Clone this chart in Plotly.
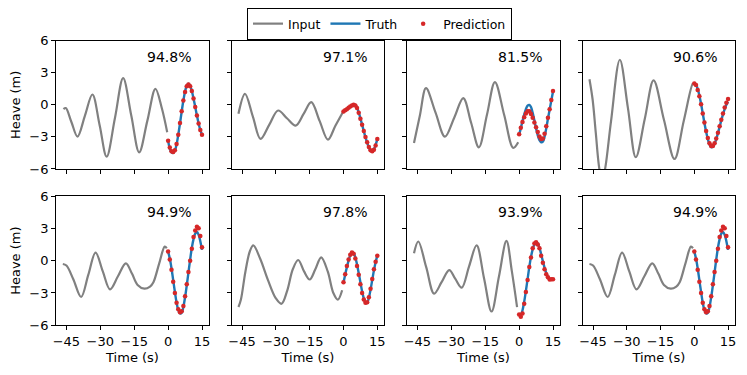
import plotly.graph_objects as go
from plotly.subplots import make_subplots

GRAY = "#808080"
BLUE = "#1f77b4"
RED = "#d62728"
FONT = "DejaVu Sans"

# forecast time grid shared by truth and prediction (s)
PRED_TIME = [0, 0.75, 1.5, 2.25, 3, 3.75, 4.5, 5.25, 6, 6.75, 7.5,
             8.25, 9, 9.75, 10.5, 11.25, 12, 12.75, 13.5, 14.25, 15]

SCORES = ["94.8%", "97.1%", "81.5%", "90.6%", "94.9%", "97.8%", "93.9%", "94.9%"]

# panel 1
P1_INPUT_T = [-46.3, -45.3, -42.8, -40.1, -36.8, -33.5, -30.3, -27.2, -23.5,
              -19.9, -16.3, -12.8, -9.2, -5.6, -2.8, -0.4]
P1_INPUT_V = [-0.4, -0.3, -1.6, -2.97, -1.0, 0.97, -1.9, -4.84, -1.2,
              2.5, -1.0, -4.44, -1.5, 1.5, -0.3, -2.56]
P1_TRUTH = [-3.34, -4.1, -4.45, -4.5, -4.3, -3.7, -2.8, -1.75, -0.65, 0.4, 1.25,
            1.8, 1.97, 1.8, 1.3, 0.6, -0.2, -1.0, -1.75, -2.35, -2.8]
P1_PRED = [-3.35, -4.0, -4.35, -4.4, -4.25, -3.65, -2.8, -1.7, -0.6, 0.4, 1.2,
           1.75, 1.9, 1.75, 1.3, 0.6, -0.2, -1.0, -1.75, -2.35, -2.8]

# panel 2
P2_INPUT_T = [-46.6, -43.7, -40.2, -36.8, -32.9, -29.0, -25.1, -21.2, -17.7,
              -14.3, -10.6, -6.9, -3.6, -0.3]
P2_INPUT_V = [-0.84, 1.03, -1.1, -3.19, -1.85, -0.53, -1.25, -1.94, -0.85,
              0.25, -1.5, -3.25, -1.95, -0.69]
P2_TRUTH = [-0.63, -0.52, -0.4, -0.28, -0.15, -0.05, 0.02, 0.0, -0.25, -0.7, -1.25,
            -1.85, -2.45, -3.05, -3.55, -4.0, -4.3, -4.35, -4.15, -3.75, -3.2]
P2_PRED = [-0.63, -0.5, -0.4, -0.27, -0.15, -0.06, 0.0, -0.05, -0.3, -0.75, -1.3,
           -1.85, -2.45, -3.0, -3.5, -3.95, -4.25, -4.35, -4.2, -3.8, -3.2]

# panel 3
P3_INPUT_T = [-46.5, -43.9, -41.2, -37.0, -32.8, -28.7, -24.7, -21.2, -17.8,
              -14.2, -10.7, -6.6, -2.6, -0.4]
P3_INPUT_V = [-3.56, -1.0, 1.56, -0.7, -2.97, -1.2, 0.63, -1.7, -3.97,
              -0.9, 2.13, -0.95, -4.03, -3.5]
P3_TRUTH = [-2.78, -2.2, -1.5, -0.9, -0.4, -0.08, 0.0, -0.2, -0.75, -1.45, -2.2,
            -2.85, -3.3, -3.5, -3.45, -3.0, -2.2, -1.3, -0.45, 0.4, 1.25]
P3_PRED = [-2.75, -2.15, -1.6, -1.15, -0.8, -0.6, -0.6, -0.85, -1.2, -1.65, -2.1,
           -2.55, -2.95, -3.2, -3.15, -2.7, -2.0, -1.2, -0.4, 0.45, 1.3]

# panel 4
P4_INPUT_T = [-46.6, -45.2, -43.8, -42.4, -41.0, -39.5, -37.0, -33.1, -29.5,
              -26.0, -22.0, -18.1, -13.5, -8.8, -4.7, -0.7, -0.4]
P4_INPUT_V = [2.4, 0.5, -2.6, -5.7, -7.3, -5.8, -1.5, 4.22, -0.3,
              -4.9, -1.3, 2.28, -1.4, -5.06, -1.5, 1.97, 1.95]
P4_TRUTH = [2.03, 1.9, 1.5, 0.88, 0.1, -0.79, -1.7, -2.52, -3.2, -3.71, -3.95,
            -3.93, -3.65, -3.2, -2.65, -2.05, -1.45, -0.9, -0.4, 0.0, 0.3]
P4_PRED = [2.0, 1.85, 1.4, 0.8, 0.05, -0.8, -1.65, -2.45, -3.1, -3.6, -3.85,
           -3.85, -3.6, -3.15, -2.6, -2.0, -1.4, -0.8, -0.25, 0.2, 0.55]

# panel 5
P5_INPUT_T = [-46.6, -45.0, -42.0, -38.5, -35.3, -32.1, -28.9, -25.7, -22.2,
              -18.7, -16.0, -13.5, -10.5, -8.0, -6.5, -4.0, -1.5, -0.6]
P5_INPUT_V = [-0.31, -0.45, -1.7, -3.37, -1.3, 0.75, -1.0, -2.66, -1.45,
              -0.25, -1.2, -2.25, -2.6, -2.4, -2.0, -0.3, 1.3, 1.15]
P5_TRUTH = [0.84, 0.2, -0.7, -1.8, -2.9, -3.9, -4.6, -4.9, -4.85, -4.3, -3.4,
            -2.3, -1.1, 0.1, 1.2, 2.0, 2.5, 2.66, 2.4, 1.8, 1.0]
P5_PRED = [0.85, 0.1, -0.85, -1.95, -3.0, -3.9, -4.5, -4.8, -4.7, -4.2, -3.3,
           -2.2, -1.05, 0.0, 1.1, 2.2, 2.8, 3.15, 3.0, 2.3, 1.25]

# panel 6
P6_INPUT_T = [-46.6, -45.5, -43.5, -41.5, -40.0, -37.0, -33.5, -30.0, -27.5,
              -25.0, -22.5, -20.1, -17.5, -15.0, -12.5, -9.9, -7.0, -4.5,
              -2.5, -0.6]
P6_INPUT_V = [-4.3, -3.6, -1.0, 0.9, 1.41, 0.2, -1.8, -3.5, -4.0,
              -2.8, -0.8, 0.06, -1.0, -1.75, -0.8, 0.31, -1.0, -3.0,
              -3.62, -2.75]
P6_TRUTH = [-2.03, -1.3, -0.6, 0.0, 0.5, 0.75, 0.7, 0.3, -0.35, -1.15, -2.0,
            -2.85, -3.5, -3.9, -3.9, -3.45, -2.7, -1.8, -0.9, -0.15, 0.47]
P6_PRED = [-2.0, -1.25, -0.5, 0.1, 0.55, 0.75, 0.65, 0.2, -0.5, -1.3, -2.2,
           -3.0, -3.6, -3.9, -3.85, -3.4, -2.6, -1.7, -0.8, -0.1, 0.45]

# panel 7
P7_INPUT_T = [-46.5, -44.6, -41.1, -37.6, -34.3, -30.9, -28.2, -25.4, -22.1,
              -18.8, -15.5, -12.2, -8.9, -5.6, -3.2, -0.9]
P7_INPUT_V = [0.69, 1.78, -0.6, -3.06, -2.0, -0.88, -1.7, -2.5, -0.5,
              1.41, -1.65, -4.72, -1.45, 1.84, -1.0, -4.31]
P7_TRUTH = [-5.1, -5.05, -4.6, -3.8, -2.8, -1.7, -0.6, 0.35, 1.05, 1.5, 1.72,
            1.6, 1.2, 0.6, -0.05, -0.65, -1.15, -1.5, -1.7, -1.75, -1.72]
P7_PRED = [-5.0, -5.2, -4.9, -4.0, -2.9, -1.8, -0.6, 0.3, 1.15, 1.6, 1.7,
           1.5, 1.15, 0.45, -0.2, -0.8, -1.25, -1.55, -1.75, -1.72, -1.72]

# panel 8 repeats the same sample as panel 5
P8_INPUT_T = P5_INPUT_T
P8_INPUT_V = P5_INPUT_V
P8_TRUTH = P5_TRUTH
P8_PRED = P5_PRED

PANELS = [
    (P1_INPUT_T, P1_INPUT_V, P1_TRUTH, P1_PRED),
    (P2_INPUT_T, P2_INPUT_V, P2_TRUTH, P2_PRED),
    (P3_INPUT_T, P3_INPUT_V, P3_TRUTH, P3_PRED),
    (P4_INPUT_T, P4_INPUT_V, P4_TRUTH, P4_PRED),
    (P5_INPUT_T, P5_INPUT_V, P5_TRUTH, P5_PRED),
    (P6_INPUT_T, P6_INPUT_V, P6_TRUTH, P6_PRED),
    (P7_INPUT_T, P7_INPUT_V, P7_TRUTH, P7_PRED),
    (P8_INPUT_T, P8_INPUT_V, P8_TRUTH, P8_PRED),
]

# the page body keeps its default 8px margin, so the figure is drawn 8px in
WIDTH, HEIGHT = 739, 367
X_DOMAINS = [[0.0650, 0.2720], [0.3027, 0.5092], [0.5399, 0.7470], [0.7777, 0.9838]]
Y_DOMAINS = [[0.5613, 0.9109], [0.1354, 0.4877]]


def build_figure():
    """Grid of heave forecasts: input history, truth and predicted points."""
    fig = make_subplots(rows=2, cols=4, shared_xaxes=True, shared_yaxes=True)

    for i, (in_t, in_v, truth, pred) in enumerate(PANELS):
        row, col = i // 4 + 1, i % 4 + 1
        first = i == 0
        fig.add_trace(
            go.Scatter(x=in_t, y=in_v, mode="lines", name="Input",
                       line=dict(color=GRAY, width=2.2, shape="spline"),
                       showlegend=first, legendrank=1),
            row=row, col=col,
        )
        fig.add_trace(
            go.Scatter(x=PRED_TIME, y=truth, mode="lines", name="Truth",
                       line=dict(color=BLUE, width=2.4, shape="spline"),
                       showlegend=first, legendrank=2),
            row=row, col=col,
        )
        fig.add_trace(
            go.Scatter(x=PRED_TIME, y=pred, mode="markers", name="Prediction",
                       marker=dict(color=RED, size=4.5, line=dict(width=0)),
                       showlegend=first, legendrank=3),
            row=row, col=col,
        )
        n = i + 1
        fig.add_annotation(
            text=SCORES[i],
            xref=f"x{n} domain" if n > 1 else "x domain",
            yref=f"y{n} domain" if n > 1 else "y domain",
            x=0.74, y=0.875, xanchor="center", yanchor="middle",
            showarrow=False, font=dict(size=14, color="black", family=FONT),
        )
        xa = "xaxis" if n == 1 else f"xaxis{n}"
        ya = "yaxis" if n == 1 else f"yaxis{n}"
        fig.layout[xa].domain = X_DOMAINS[col - 1]
        fig.layout[ya].domain = Y_DOMAINS[row - 1]

    fig.update_xaxes(
        range=[-49.6, 18.1], tickvals=[-45, -30, -15, 0, 15],
        showline=True, linecolor="black", linewidth=1, mirror=True,
        ticks="outside", ticklen=4, tickcolor="black", showgrid=False,
        zeroline=False, tickfont=dict(size=13, color="black"),
        automargin=False,
    )
    fig.update_yaxes(
        range=[-6, 6], tickvals=[-6, -3, 0, 3, 6],
        showline=True, linecolor="black", linewidth=1, mirror=True,
        ticks="outside", ticklen=4, tickcolor="black", showgrid=False,
        zeroline=False, tickfont=dict(size=13, color="black"),
        automargin=False,
    )
    for c in range(1, 5):
        fig.update_xaxes(title=dict(text="Time (s)", standoff=4,
                                    font=dict(size=13, color="black")),
                         row=2, col=c)
    for r in range(1, 3):
        fig.update_yaxes(title=dict(text="Heave (m)", standoff=6,
                                    font=dict(size=13, color="black")),
                         row=r, col=1)

    fig.update_layout(
        width=WIDTH,
        height=HEIGHT,
        margin=dict(l=0, r=0, t=0, b=0, autoexpand=False),
        plot_bgcolor="white",
        paper_bgcolor="white",
        font=dict(family=FONT, size=13, color="black"),
        legend=dict(
            orientation="h",
            x=0.5027, xanchor="center",
            y=1.0, yanchor="top",
            bordercolor="black", borderwidth=1,
            font=dict(size=12.5),
            traceorder="normal",
        ),
    )
    return fig


fig = build_figure()
fig.write_html("out.html")
